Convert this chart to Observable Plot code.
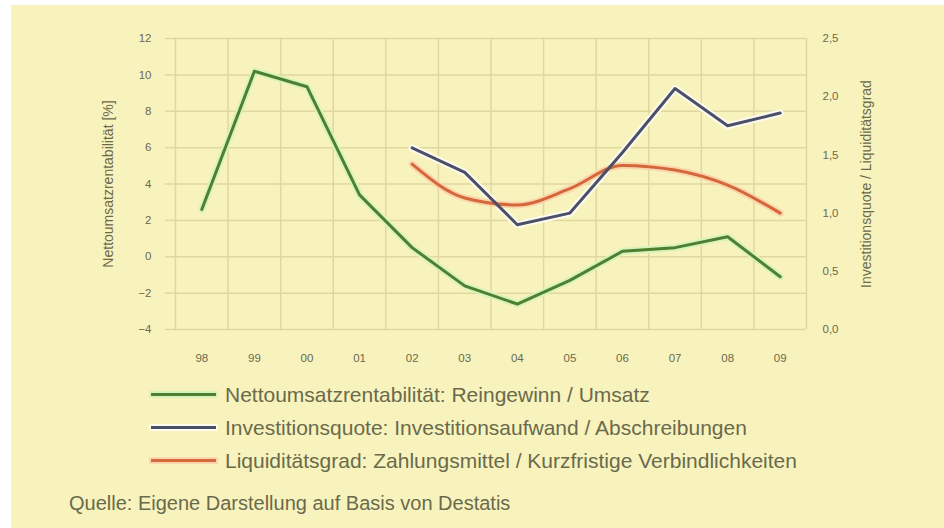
<!DOCTYPE html>
<html>
<head>
<meta charset="utf-8">
<script src="https://cdn.jsdelivr.net/npm/d3@7"></script>
<script src="https://cdn.jsdelivr.net/npm/@observablehq/plot@0.6"></script>
<style>
  html, body { margin: 0; padding: 0; background: #ffffff; width: 944px; height: 528px; overflow: hidden; }
  #sheet { position: absolute; left: 11px; top: 5px; width: 933px; height: 523px; background: #f8f3bd; }
  #chart { position: absolute; left: 0; top: 0; width: 944px; }
  #chart svg g[aria-label="y-axis label"] text { font-size: 14px; }
  .legend { position: absolute; left: 151px; top: 378px; font: 21px "Liberation Sans", Arial, sans-serif; color: #6a6a4c; }
  .row { display: flex; align-items: center; height: 33px; white-space: nowrap; }
  .swatch { width: 65px; height: 3px; margin-right: 9px; flex: none; }
  .caption { position: absolute; left: 69px; top: 492px; font: 20px "Liberation Sans", Arial, sans-serif; color: #6a6a4c; white-space: nowrap; }
</style>
</head>
<body>
<div id="sheet"></div>
<div id="chart"></div>
<div class="legend" id="legend"></div>
<div class="caption">Quelle: Eigene Darstellung auf Basis von Destatis</div>
<script>
// Years on the x axis
const years = ["98", "99", "00", "01", "02", "03", "04", "05", "06", "07", "08", "09"];

// Left axis series, in percent
const rentabilitaet = [2.6, 10.2, 9.35, 3.4, 0.5, -1.6, -2.6, -1.3, 0.3, 0.5, 1.1, -1.1];

// Right axis series (ratios), no data before 2002
const investition = [null, null, null, null, 1.56, 1.35, 0.9, 1.0, 1.52, 2.07, 1.75, 1.86];
const liquiditaet = [null, null, null, null, 1.42, 1.13, 1.07, 1.21, 1.41, 1.37, 1.24, 1.0];

// Tick values of both axes
const leftTicks = [-4, -2, 0, 2, 4, 6, 8, 10, 12];
const rightTicks = [0, 0.5, 1, 1.5, 2, 2.5];

const seriesNames = [
  "Nettoumsatzrentabilität: Reingewinn / Umsatz",
  "Investitionsquote: Investitionsaufwand / Abschreibungen",
  "Liquiditätsgrad: Zahlungsmittel / Kurzfristige Verbindlichkeiten"
];
const seriesColors = ["#4f7f31", "#4c4f68", "#d4683a"];
const haloColors = ["#d8f3b9", "#fdfbee", "#fbd6ad"];

// The right axis shares the plot height: map its domain onto the left one
const rightToLeft = d3.scaleLinear([0, 2.5], [-4, 12]);
const commaFormat = (v) => d3.format(".1f")(v).replace(".", ",");

const rows = (values, s) => values.map((v, i) => ({
  x: i + 0.5,
  year: years[i],
  v: v == null ? null : (s === 0 ? v : rightToLeft(v)),
  s
})).filter(d => d.v != null);

const green = rows(rentabilitaet, 0);
const blue = rows(investition, 1);
const orange = rows(liquiditaet, 2);

const grid = "#e0d79f";
const ink = "#6a6a4c";

const chart = Plot.plot({
  width: 944,
  height: 375,
  marginLeft: 175,
  marginRight: 138,
  marginTop: 38,
  marginBottom: 46,
  style: { background: "transparent", fontFamily: "'Liberation Sans', Arial, sans-serif", fontSize: "11.5px", color: ink },
  x: { domain: [0, 12], axis: null },
  y: { domain: [-4, 12], axis: null },
  marks: [
    Plot.ruleX(d3.range(13), { stroke: grid, strokeWidth: 1.5 }),
    Plot.ruleY(leftTicks, { stroke: grid, strokeWidth: 1.5 }),
    Plot.axisY(leftTicks, {
      anchor: "left", tickSize: 10, tickPadding: 14, stroke: grid, strokeWidth: 1.5,
      fill: ink, label: "Nettoumsatzrentabilität [%]", labelAnchor: "center", labelArrow: "none", labelOffset: 72
    }),
    Plot.axisY(rightTicks.map(rightToLeft), {
      anchor: "right", tickSize: 0, tickPadding: 16, fill: ink,
      tickFormat: (d) => commaFormat(rightToLeft.invert(d)),
      label: "Investitionsquote / Liquiditätsgrad", labelAnchor: "center", labelArrow: "none", labelOffset: 64
    }),
    Plot.axisX(years.map((d, i) => i + 0.5), {
      anchor: "bottom", tickSize: 0, tickPadding: 24, fill: ink,
      tickFormat: (d) => years[Math.floor(d)], label: null
    }),
    // soft halos under each line
    Plot.line(green, { x: "x", y: "v", stroke: haloColors[0], strokeWidth: 7 }),
    Plot.line(blue, { x: "x", y: "v", stroke: haloColors[1], strokeWidth: 7 }),
    Plot.line(orange, { x: "x", y: "v", stroke: haloColors[2], strokeWidth: 7, curve: "monotone-x" }),
    Plot.line(green, { x: "x", y: "v", stroke: seriesColors[0], strokeWidth: 3 }),
    Plot.line(orange, { x: "x", y: "v", stroke: seriesColors[2], strokeWidth: 3, curve: "monotone-x" }),
    Plot.line(blue, { x: "x", y: "v", stroke: seriesColors[1], strokeWidth: 3 })
  ]
});
document.getElementById("chart").appendChild(chart);

// Legend below the chart
const legend = document.getElementById("legend");
seriesNames.forEach((name, i) => {
  const row = document.createElement("div");
  row.className = "row";
  const sw = document.createElement("span");
  sw.className = "swatch";
  sw.style.background = seriesColors[i];
  sw.style.boxShadow = `0 0 0 2px ${haloColors[i]}`;
  const label = document.createElement("span");
  label.textContent = name;
  row.appendChild(sw);
  row.appendChild(label);
  legend.appendChild(row);
});
</script>
</body>
</html>
